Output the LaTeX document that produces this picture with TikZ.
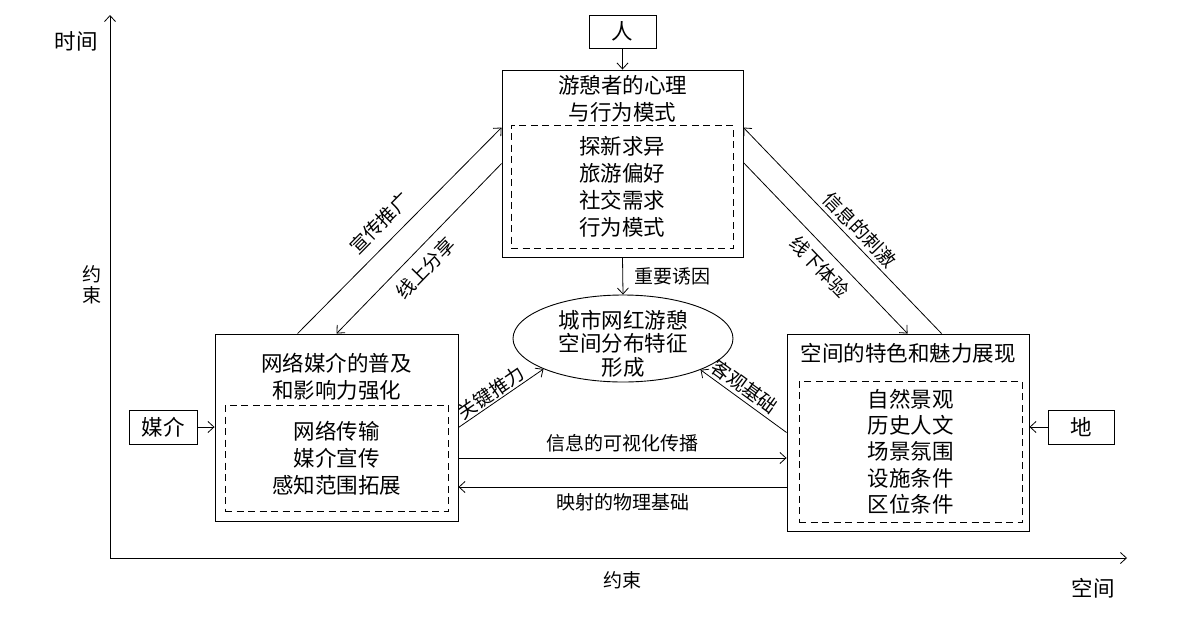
\documentclass[tikz,border=0pt]{standalone}
\usepackage{fontspec}
\setmainfont{Noto Sans CJK SC}
\usetikzlibrary{arrows.meta,shapes.geometric,calc}
\begin{document}
\begin{tikzpicture}[x=1pt,y=-1pt,
  every node/.style={font=\fontsize{21.5}{27}\selectfont, inner sep=0pt},
  boxs/.style={draw, line width=0.9pt, rectangle},
  dbox/.style={draw, line width=0.9pt, dash pattern=on 7pt off 4.5pt, align=center},
  lbl/.style={font=\fontsize{19}{21}\selectfont},
  arr/.style={line width=0.8pt, -{Straight Barb[length=6pt,width=11pt]}},
  arrb/.style={line width=0.8pt, {Straight Barb[length=6pt,width=11pt]}-}]
\useasboundingbox (0,0) rectangle (1188,616);

% axes
\coordinate (O) at (110,558);
\coordinate (ytip) at (110,15);
\coordinate (xtip) at (1127,558);
\draw[arr] (O) -- (ytip);
\draw[arr] (O) -- (xtip);
\node (tlabel) at (76,41) {时间};
\node[align=center, font=\fontsize{19}{21}\selectfont] (c1) at (92,285) {约\\束};
\node[lbl] (c2) at (622,580) {约束};
\node (slabel) at (1093,588) {空间};

% top
\node[boxs, minimum width=67pt, minimum height=33pt] (person) at (622.5,31.5) {人};
\node[boxs, minimum width=241pt, minimum height=187pt] (top) at (622.5,163.5) {};
\node[align=center] (toptitle) at (622.5,99) {游憩者的心理\\与行为模式};
\node[dbox, minimum width=222pt, minimum height=123pt] (topin) at (622,186.5) {探新求异\\旅游偏好\\社交需求\\行为模式};

% ellipse
\node[draw, ellipse, line width=0.9pt, minimum width=220pt, minimum height=87pt] (ell) at (623,338.5) {};
\node[align=center, font=\fontsize{21.5}{23.5}\selectfont] (elltext) at (623,343.5) {城市网红游憩\\空间分布特征\\形成};

% left
\node[boxs, minimum width=243pt, minimum height=187pt] (left) at (336.5,427.5) {};
\node[align=center] (lefttitle) at (336.5,376.5) {网络媒介的普及\\和影响力强化};
\node[dbox, minimum width=223pt, minimum height=106pt] (leftin) at (336.5,458) {网络传输\\媒介宣传\\感知范围拓展};

% right
\node[boxs, minimum width=242pt, minimum height=197pt] (right) at (908,432.5) {};
\node (righttitle) at (908,353) {空间的特色和魅力展现};
\node[dbox, minimum width=223pt, minimum height=141pt, font=\fontsize{21.5}{26.3}\selectfont] (rightin) at (910.5,451.5) {自然景观\\历史人文\\场景氛围\\设施条件\\区位条件};

% side boxes
\node[boxs, minimum width=68pt, minimum height=34pt] (media) at (163,427) {媒介};
\node[boxs, minimum width=66pt, minimum height=34pt] (land) at (1081,427) {地};

% connectors
\draw[arr] (person.south) -- (top.north);
\draw[arr] (media.east) -- (left.west |- media.east);
\draw[arr] (land.west) -- (right.east |- land.west);
\draw[arr] (top.south) -- node[lbl, midway, anchor=west, xshift=11pt] {重要诱因} (ell.north);

\draw[arr] ([xshift=83pt]left.north west) -- node[lbl, pos=0.47, sloped, above=10pt] {宣传推广} ([yshift=-58pt]top.north west);
\draw[arrb] ([xshift=122pt]left.north west) -- node[lbl, pos=0.46, sloped, below=9pt] {线上分享} ([yshift=-94pt]top.north west);
\draw[arr] ([yshift=-93pt]top.north east) -- node[lbl, pos=0.54, sloped, below=8pt] {线下体验} ([xshift=121pt]right.north west);
\draw[arrb] ([yshift=-58pt]top.north east) -- node[lbl, pos=0.54, sloped, above=4pt] {信息的刺激} ([xshift=155pt]right.north west);

\draw[arr] (left.east) -- node[lbl, pos=0.45, sloped, above=1pt] {关键推力} (ell.201);
\draw[arrb] (ell.338) -- node[lbl, pos=0.43, sloped, above=3pt] {客观基础} (right.west);

\draw[arr] ([yshift=-30.5pt]left.east) -- node[lbl, midway, above=6pt] {信息的可视化传播} ([yshift=-30.5pt]left.east -| right.west);
\draw[arrb] ([yshift=-59.5pt]left.east) -- node[lbl, midway, below=6pt] {映射的物理基础} ([yshift=-59.5pt]left.east -| right.west);
\end{tikzpicture}
\end{document}
